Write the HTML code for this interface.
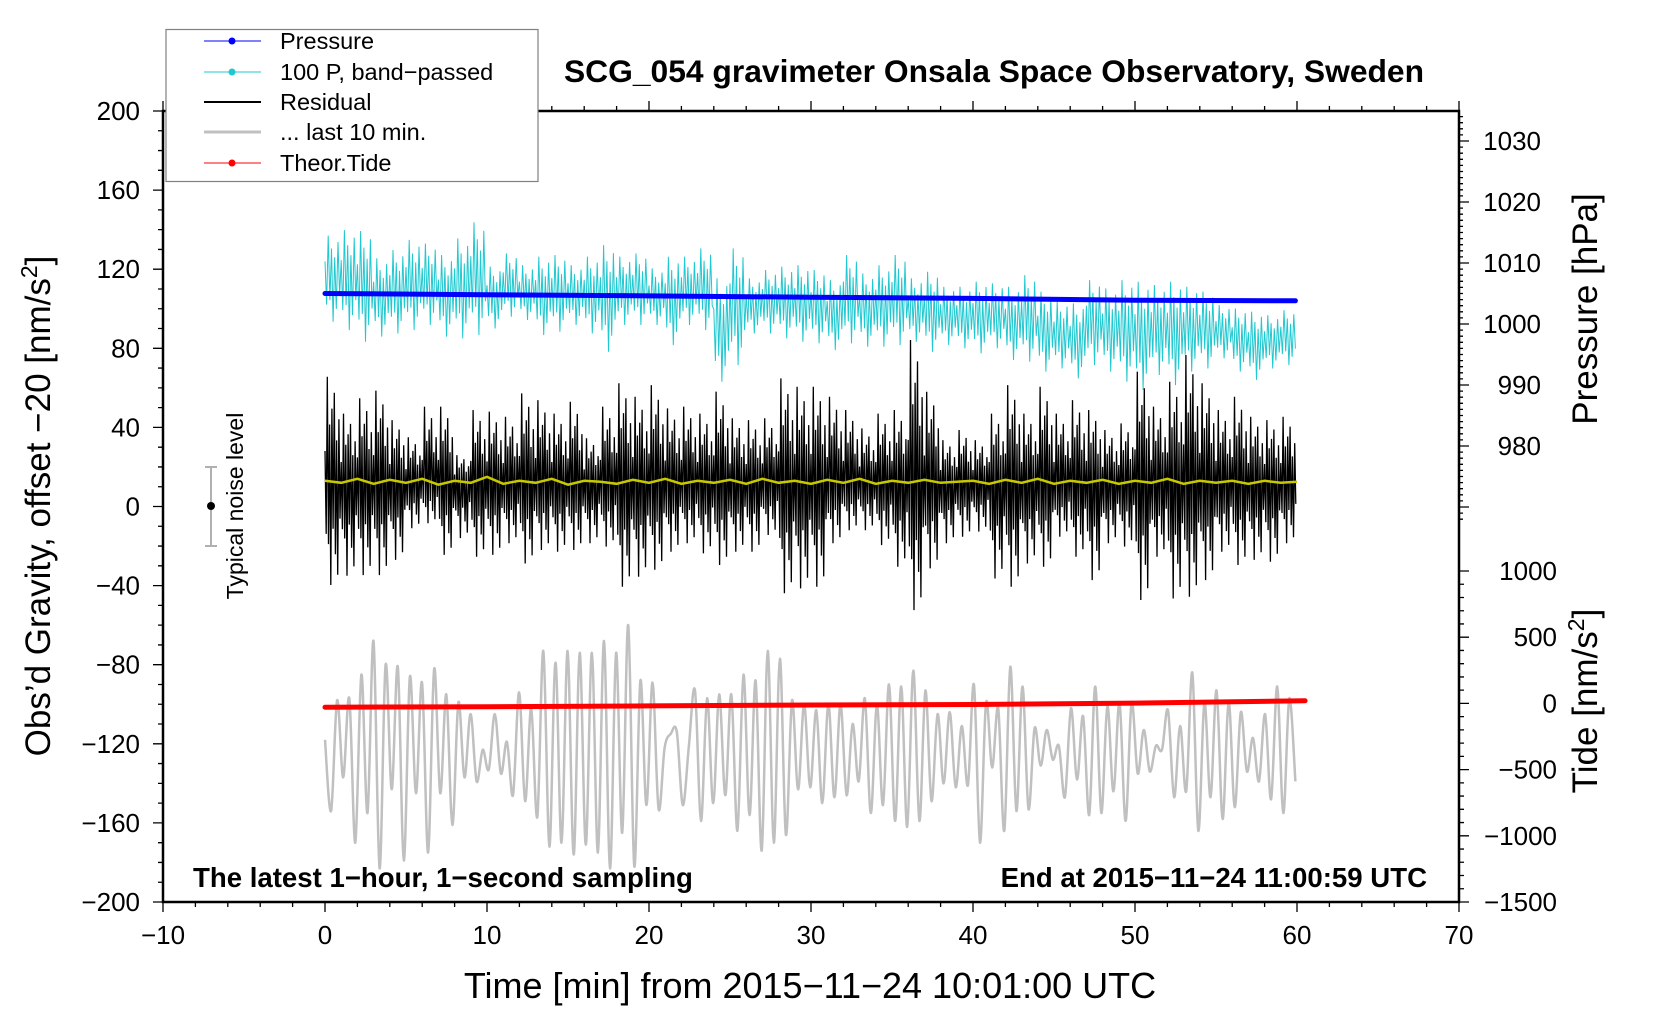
<!DOCTYPE html>
<html><head><meta charset="utf-8"><style>
html,body{margin:0;padding:0;background:#fff;}
svg{display:block;font-family:"Liberation Sans",sans-serif;}
</style></head><body>
<svg id="chart" width="1660" height="1020" viewBox="0 0 1660 1020">
<g id="plot"></g>
<g id="axes"></g>
<text x="994" y="82" font-size="31.8" font-weight="bold" text-anchor="middle">SCG_054 gravimeter Onsala Space Observatory, Sweden</text>
<text x="810" y="998" font-size="36" text-anchor="middle">Time [min] from 2015−11−24 10:01:00 UTC</text>
<text transform="translate(50,506) rotate(-90)" font-size="35" text-anchor="middle">Obs’d Gravity, offset −20 [nm/s<tspan baseline-shift="super" font-size="23">2</tspan>]</text>
<text transform="translate(1597,309) rotate(-90)" font-size="35" text-anchor="middle">Pressure [hPa]</text>
<text transform="translate(1597,701) rotate(-90)" font-size="35" text-anchor="middle">Tide [nm/s<tspan baseline-shift="super" font-size="23">2</tspan>]</text>
<text x="193" y="887" font-size="27.6" font-weight="bold">The latest 1−hour, 1−second sampling</text>
<text x="1427" y="887" font-size="27.6" font-weight="bold" text-anchor="end">End at 2015−11−24 11:00:59 UTC</text>
<g>
<line x1="211" y1="467" x2="211" y2="546" stroke="#b0b0b0" stroke-width="2"/>
<line x1="205" y1="467" x2="217" y2="467" stroke="#b0b0b0" stroke-width="2"/>
<line x1="205" y1="546" x2="217" y2="546" stroke="#b0b0b0" stroke-width="2"/>
<circle cx="211" cy="506" r="4" fill="#000"/>
<text transform="translate(243,506) rotate(-90)" font-size="23" text-anchor="middle">Typical noise level</text>
</g>
<g>
<rect x="166" y="29.5" width="372" height="152" fill="#fff" stroke="#808080" stroke-width="1.2"/>
<g><line x1="204" y1="41" x2="261" y2="41" stroke="#0000ff" stroke-width="1"/><circle cx="232" cy="41" r="3.5" fill="#0000ff"/><text x="280" y="49" font-size="23.5">Pressure</text></g>
<g><line x1="204" y1="72" x2="261" y2="72" stroke="#20c8d0" stroke-width="1"/><circle cx="232" cy="72" r="3.5" fill="#20c8d0"/><text x="280" y="80" font-size="23.5">100 P, band−passed</text></g>
<g><line x1="204" y1="102" x2="261" y2="102" stroke="#000" stroke-width="2"/><text x="280" y="110" font-size="23.5">Residual</text></g>
<g><line x1="204" y1="132" x2="261" y2="132" stroke="#c0c0c0" stroke-width="3"/><text x="280" y="140" font-size="23.5">... last 10 min.</text></g>
<g><line x1="204" y1="163" x2="261" y2="163" stroke="#ff0000" stroke-width="1"/><circle cx="232" cy="163" r="3.5" fill="#ff0000"/><text x="280" y="171" font-size="23.5">Theor.Tide</text></g>
</g>
</svg>
<script>
// ---- data ----
const resHi=[65.6,47,54.7,58.6,43.7,35,50.5,50.5,26,48.8,48,45.4,57.2,53.8,47,53,34.5,50.5,62.3,55.5,61.4,49.6,50.5,47,58.1,44.6,43.7,44.6,64.8,60.6,60.6,55.5,48.8,39.5,47,48.8,84.2,58,33.6,38.7,33.6,47,61.4,47,60.6,47,53.8,48.8,38.7,42,68.2,50.5,63.1,76.6,62.3,48.8,55.5,45.4,43.7,45.4];
const resLo=[-39.7,-35,-34.7,-34.7,-27,-11,-8.5,-24.5,-16,-25.4,-24.5,-18.6,-28.8,-22,-22.9,-22,-18.6,-20.3,-40.6,-35.5,-32,-22.9,-18.6,-23.7,-29.6,-22.9,-22.9,-14.4,-43.9,-41.4,-40.6,-18.6,-12,-12,-19.5,-30.5,-52.4,-31.3,-18.6,-15.3,-12.7,-36.4,-40.6,-28.8,-30.5,-15.3,-25.4,-37.2,-18.6,-20.3,-47.3,-25.4,-46.5,-45.6,-37.2,-22.9,-29.6,-27,-27.9,-18.6];
const yellowV=[13,12,14,11.5,13.5,12,14,11,13,12,15,11.5,13,12,14,11,13,12.5,11.5,13.5,12,14,11.5,13,12,13.5,11.5,14,12,13,11.5,13.5,12,14,11.5,13,12,13.5,12,12.5,13,11.5,13.5,12,14,11.5,13,12,13.5,11.5,13,12,14,11.5,13,12,13,11.5,13,12,12.5];
const cyanHi=[137,139.8,139.3,125.5,129.7,134.8,133,127.2,135.6,143.7,121.3,128,122,126.3,127.2,122,126.3,132.2,126.3,128,120.4,126.3,126.3,130.5,115.4,130.5,115.4,119.6,121.3,122,119.6,114.5,127.2,117.9,122,127.2,115.4,118.7,111.1,111.1,113.7,112.8,111.1,117,108.6,103.6,102.7,114.5,110.3,114.5,113.7,112,113.7,111.1,108.6,101.9,100.2,98.5,96.8,99.3];
const cyanLo=[93.4,89.2,83.3,85.9,87.5,89.2,91.8,85.9,85,86.7,90,96,94.3,86.7,88.4,91.8,87.5,78.3,91.8,91.8,91.8,81.6,91.8,89.2,63.1,71.5,87.5,87.5,85,83.3,82.5,79.1,82.5,80.8,80.8,81.6,83.3,78.3,81.6,80,77.4,80,74.1,73.2,68.2,69.8,64.8,71.5,68.2,63.1,58.9,66.5,61.4,68.2,69.8,74.9,68.2,64,69.8,71.5];
const grayV=[-118,-154,-98,-137,-97,-170,-85,-155,-68,-183,-80,-143,-81,-179,-86,-145,-89,-175,-82,-145,-95,-161,-99,-137,-105,-139,-123,-133,-105,-135,-119,-146,-94,-149,-102,-157,-73,-172,-79,-170,-73,-176,-74,-171,-74,-175,-68,-183,-74,-165,-60,-182,-88,-151,-89,-153,-122,-115,-114,-151,-121,-93,-159,-97,-150,-95,-146,-95,-164,-85,-156,-88,-174,-73,-170,-77,-166,-98,-143,
-100,-142,-103,-150,-100,-147,-100,-146,-110,-139,-97,-155,-100,-151,-90,-159,-91,-162,-83,-159,-93,-149,-105,-140,-104,-142,-111,-141,-90,-170,-99,-132,-102,-164,-81,-154,-91,-153,-112,-131,-113,-128,-121,-147,-102,-138,-106,-156,-91,-155,-101,-144,-99,-159,-99,-135,-113,-134,-121,-123,-103,-147,-111,-144,-84,-164,-99,-147,-93,-158,-99,-152,-104,-134,-117,-139,-105,-148,-91,-155,-97,-139];
const pressT=[0,10,20,30,40,50,59.9];
const pressV=[1005.0,1004.8,1004.6,1004.4,1004.2,1003.9,1003.8];
const tideT=[0,10,20,30,40,50,60.5];
const tideV=[-29,-25,-19,-12,-8,2,20];
const xTicks=[-10,0,10,20,30,40,50,60,70];
const yTicks=[200,160,120,80,40,0,-40,-80,-120,-160,-200];
const pTicks=[1030,1020,1010,1000,990,980];
const tTicks=[1000,500,0,-500,-1000,-1500];

// ---- axis functions ----
const X=t=>163+(t+10)*16.2;
const Y=v=>902-(v+200)*1.9775;
const YP=p=>324-(p-1000)*6.1;
const YT=d=>703.4-d*0.1324;
const NS='http://www.w3.org/2000/svg';
const plot=document.getElementById('plot'), axes=document.getElementById('axes');
function mk(tag,attrs,parent){const e=document.createElementNS(NS,tag);for(const k in attrs)e.setAttribute(k,attrs[k]);parent.appendChild(e);return e;}
function fmt(n){return n<0?'−'+Math.abs(n):String(n);}
function smoothPath(P){let d='M'+P[0][0].toFixed(1)+','+P[0][1].toFixed(1);
 for(let i=0;i<P.length-1;i++){const p0=P[Math.max(0,i-1)],p1=P[i],p2=P[i+1],p3=P[Math.min(P.length-1,i+2)];
  const c1x=p1[0]+(p2[0]-p0[0])/6,c1y=p1[1]+(p2[1]-p0[1])/6,c2x=p2[0]-(p3[0]-p1[0])/6,c2y=p2[1]-(p3[1]-p1[1])/6;
  d+=` C${c1x.toFixed(1)},${c1y.toFixed(1)} ${c2x.toFixed(1)},${c2y.toFixed(1)} ${p2[0].toFixed(1)},${p2[1].toFixed(1)}`;}
 return d;}

const patR=[0.3,-0.5,1,-0.6,0.55,-1,0.7,-0.45,0.85,-0.7,0.4,-0.9,0.6,-0.35];
const patC=[0.4,-0.6,1,-0.5,0.7,-1,0.5,-0.7,0.85,-0.4];

// cyan band-passed
let pts=[];
for(let k=0;k<cyanHi.length;k++){const c=(cyanHi[k]+cyanLo[k])/2;
 for(let j=0;j<patC.length;j++){const f=patC[j];const v=f>0?c+f*(cyanHi[k]-c):c-f*(cyanLo[k]-c);pts.push(X(k+j/patC.length).toFixed(1)+','+Y(v).toFixed(1));}}
let el=mk('polyline',{points:pts.join(' '),fill:'none',stroke:'#20c8d0','stroke-width':1},plot);



// pressure
pts=pressT.map((t,i)=>X(t).toFixed(1)+','+YP(pressV[i]).toFixed(1));
el=mk('polyline',{points:pts.join(' '),fill:'none',stroke:'#0000ff','stroke-width':5,'stroke-linecap':'round'},plot);



// residual
pts=[];const rc=12;
for(let k=0;k<resHi.length;k++){
 for(let j=0;j<patR.length;j++){const f=patR[j];const v=f>0?rc+f*(resHi[k]-rc):rc-f*(resLo[k]-rc);pts.push(X(k+j/patR.length).toFixed(1)+','+Y(v).toFixed(1));}}
el=mk('polyline',{points:pts.join(' '),fill:'none',stroke:'#000','stroke-width':1.3},plot);



// yellow smoothed residual
pts=yellowV.map((v,i)=>X(i*60/(yellowV.length-1)).toFixed(1)+','+Y(v).toFixed(1));
el=mk('polyline',{points:pts.join(' '),fill:'none',stroke:'#c8c800','stroke-width':2.5},plot);



// gray last 10 min
const gp=grayV.map((v,i)=>[X(i*59.9/(grayV.length-1)),Y(v)]);
el=mk('path',{d:smoothPath(gp),fill:'none',stroke:'#c0c0c0','stroke-width':2.5,'stroke-linejoin':'round'},plot);



// tide
pts=tideT.map((t,i)=>X(t).toFixed(1)+','+YT(tideV[i]).toFixed(1));
el=mk('polyline',{points:pts.join(' '),fill:'none',stroke:'#ff0000','stroke-width':5,'stroke-linecap':'round'},plot);



// ---- axes ----
el=mk('rect',{x:163,y:111,width:1296,height:791,fill:'none',stroke:'#000','stroke-width':2.5},axes);


let d='';
for(let t=-10;t<=70;t+=2){const x=X(t),L=(t%10===0)?10:5;d+=`M${x},902v${L}M${x},111v${-L}`;}
for(let v=-200;v<=200;v+=10){const y=Y(v),L=(v%40===0)?10:5;d+=`M163,${y}h${-L}`;}
for(let p=1034;p>=968;p--){const y=YP(p),L=(p%10===0)?10:4;d+=`M1459,${y}h${L}`;}
for(let td=1000;td>=-1500;td-=100){const y=YT(td),L=(td%500===0)?10:5;d+=`M1459,${y}h${L}`;}
el=mk('path',{d:d,stroke:'#000','stroke-width':1.3,fill:'none'},axes);


xTicks.forEach(t=>{const e=mk('text',{x:X(t),y:944,'font-size':26,'text-anchor':'middle'},axes);e.textContent=fmt(t);
 
 });
yTicks.forEach(v=>{const e=mk('text',{x:140,y:Y(v)+9,'font-size':26,'text-anchor':'end'},axes);e.textContent=fmt(v);
 
 });
pTicks.forEach(p=>{const e=mk('text',{x:1541,y:YP(p)+9,'font-size':26,'text-anchor':'end'},axes);e.textContent=fmt(p);
 
 });
tTicks.forEach(p=>{const e=mk('text',{x:1557,y:YT(p)+9,'font-size':26,'text-anchor':'end'},axes);e.textContent=fmt(p);
 
 });
</script>
</body></html>
